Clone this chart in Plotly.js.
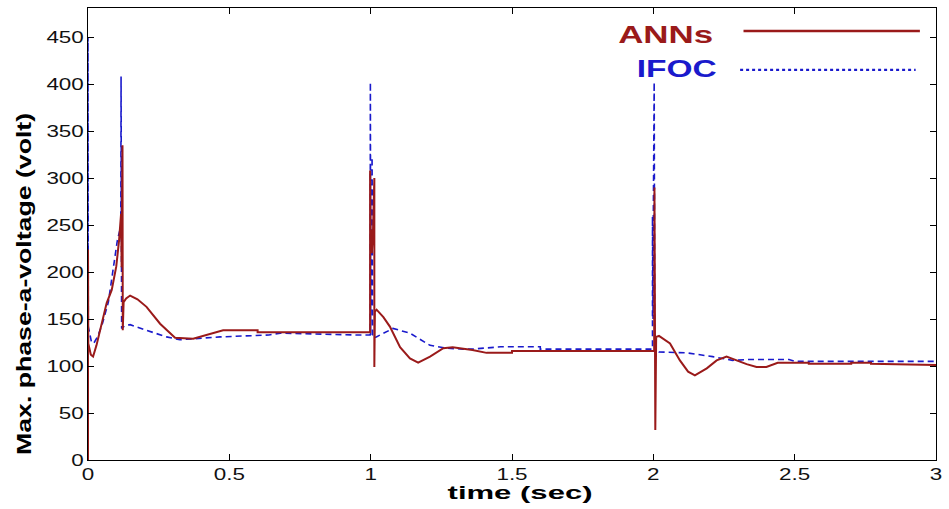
<!DOCTYPE html>
<html>
<head>
<meta charset="utf-8">
<script src="https://cdn.plot.ly/plotly-3.0.1.min.js"></script>
<style>html,body{margin:0;padding:0;background:#fff;}#chart{width:949px;height:509px;}</style>
</head>
<body>
<div id="chart"></div>
<script>
// ANNs series (time in sec, voltage in volt)
const annT = [0,0,0.001,0.01,0.018,0.03,0.048,0.066,0.084,0.1,0.11,0.117,0.119,0.121,0.122,0.123,0.126,0.135,0.149,0.175,0.207,0.255,0.308,0.372,0.42,0.478,0.6,0.6,0.998,0.998,1.0,1.002,1.004,1.008,1.013,1.013,1.015,1.021,1.045,1.068,1.104,1.139,1.168,1.21,1.257,1.29,1.36,1.41,1.5,1.5,2.003,2.004,2.005,2.005,2.006,2.006,2.007,2.01,2.02,2.059,2.094,2.123,2.147,2.189,2.224,2.259,2.295,2.33,2.365,2.4,2.44,2.55,2.55,2.7,2.7,2.77,2.77,3.0];
const annV = [0,224,124,112,110,122,144,167,181,206,234,262,205,262,335,138,168,172,175,171,163,145,130,129,133,138,138,136,136,308,230,245,220,240,300,99,158,160,152,142,120,108,103.5,110,119,120,117,114,114,116,116,290,140,225,135,225,32,131,132,124,106,94,90,97.5,106,110,106,102,99,99,103.5,103.5,102.5,102.5,103.5,103.5,102.5,101];

// IFOC series
const ifocT = [0,0,0.001,0.012,0.02,0.035,0.05,0.072,0.088,0.104,0.113,0.116,0.117,0.119,0.13,0.149,0.207,0.278,0.325,0.467,0.64,0.68,0.95,0.998,0.999,1.0,1.003,1.005,1.007,1.02,1.079,1.139,1.21,1.269,1.327,1.36,1.46,1.6,1.6,1.997,1.997,1.999,2.0,2.003,2.005,2.02,2.118,2.21,2.28,2.34,2.48,2.5,3.0];
const ifocV = [225,450,142,126,124,132,144,168,199,234,245,245,408,140,143,144,138,131,128,131,133,135,133,133,402,133,233,322,130,131,140,135,122,119,118,118,120.5,120.5,118,118,259,150,259,402,119,115,114,110,106,107,107,105,105];

// Axis ticks and labels
const xTicks = [0,0.5,1,1.5,2,2.5,3];
const xTickText = ['0','0.5','1','1.5','2','2.5','3'];
const yTicks = [0,50,100,150,200,250,300,350,400,450];
const xTitle = 'time (sec)';
const yTitle = 'Max. phase-a-voltage (volt)';
const seriesNames = ['ANNs','IFOC'];

const red = '#9a1a1a';
const blue = '#1a1acc';
const FAM = 'Liberation Sans, Arial, sans-serif';

const traces = [
  {x: ifocT, y: ifocV, type:'scatter', mode:'lines', name: seriesNames[1],
   line:{color: blue, width:1.6, dash:'6px,4px'}, showlegend:false},
  {x: annT, y: annV, type:'scatter', mode:'lines', name: seriesNames[0],
   line:{color: red, width:2}, showlegend:false}
];

const tickFont = {family:FAM, size:16, color:'#111'};
const layout = {
  width:949, height:509,
  margin:{l:88, r:13, t:8, b:49},
  paper_bgcolor:'#fff', plot_bgcolor:'#fff',
  showlegend:false,
  xaxis:{range:[0,3], tickvals:xTicks, ticktext:xTickText, ticks:'inside', ticklen:6,
    tickcolor:'#000', showline:true, linecolor:'#000', linewidth:1, mirror:'ticks',
    showgrid:false, zeroline:false, tickfont:tickFont},
  yaxis:{range:[0,481], tickvals:yTicks, ticks:'inside', ticklen:6,
    tickcolor:'#000', showline:true, linecolor:'#000', linewidth:1, mirror:'ticks',
    showgrid:false, zeroline:false, tickfont:tickFont},
  annotations:[
    {xref:'paper', yref:'paper', x:0.681, y:0.942, xanchor:'center', yanchor:'middle', showarrow:false,
     text:seriesNames[0], font:{family:FAM, size:24, color:red, weight:'bold'}},
    {xref:'paper', yref:'paper', x:0.694, y:0.867, xanchor:'center', yanchor:'middle', showarrow:false,
     text:seriesNames[1], font:{family:FAM, size:24, color:blue, weight:'bold'}},
    {xref:'paper', yref:'paper', x:0.509, y:-0.073, xanchor:'center', yanchor:'middle', showarrow:false,
     text:xTitle, font:{family:FAM, size:18, color:'#000', weight:'bold'}},
    {xref:'paper', yref:'paper', x:-0.076, y:0.389, xanchor:'center', yanchor:'middle', showarrow:false,
     textangle:-90, text:yTitle, font:{family:FAM, size:21, color:'#000', weight:'bold'}}
  ],
  shapes:[
    {type:'line', xref:'paper', yref:'paper', x0:0.773, x1:0.981, y0:0.949, y1:0.949, line:{color:red, width:2.5}},
    {type:'line', xref:'paper', yref:'paper', x0:0.769, x1:0.976, y0:0.863, y1:0.863, line:{color:blue, width:2.2, dash:'dot'}}
  ]
};

// horizontal widths of the text in the reference (stretched lettering)
const textWidths = {};
textWidths[seriesNames[0]] = 95;
textWidths[seriesNames[1]] = 80;
textWidths[xTitle] = 145;
textWidths[yTitle] = 342;
const tickStretch = 1.4;

Plotly.newPlot('chart', traces, layout, {displayModeBar:false, staticPlot:true}).then(function(gd){
  gd.querySelectorAll('.annotation-text').forEach(function(t){
    const w = textWidths[t.textContent];
    if (w) { t.setAttribute('textLength', w); t.setAttribute('lengthAdjust', 'spacingAndGlyphs'); }
  });
  gd.querySelectorAll('.xtick text, .ytick text').forEach(function(t){
    const w = t.getComputedTextLength() * tickStretch;
    t.setAttribute('textLength', w); t.setAttribute('lengthAdjust', 'spacingAndGlyphs');
  });
});
</script>
</body>
</html>
